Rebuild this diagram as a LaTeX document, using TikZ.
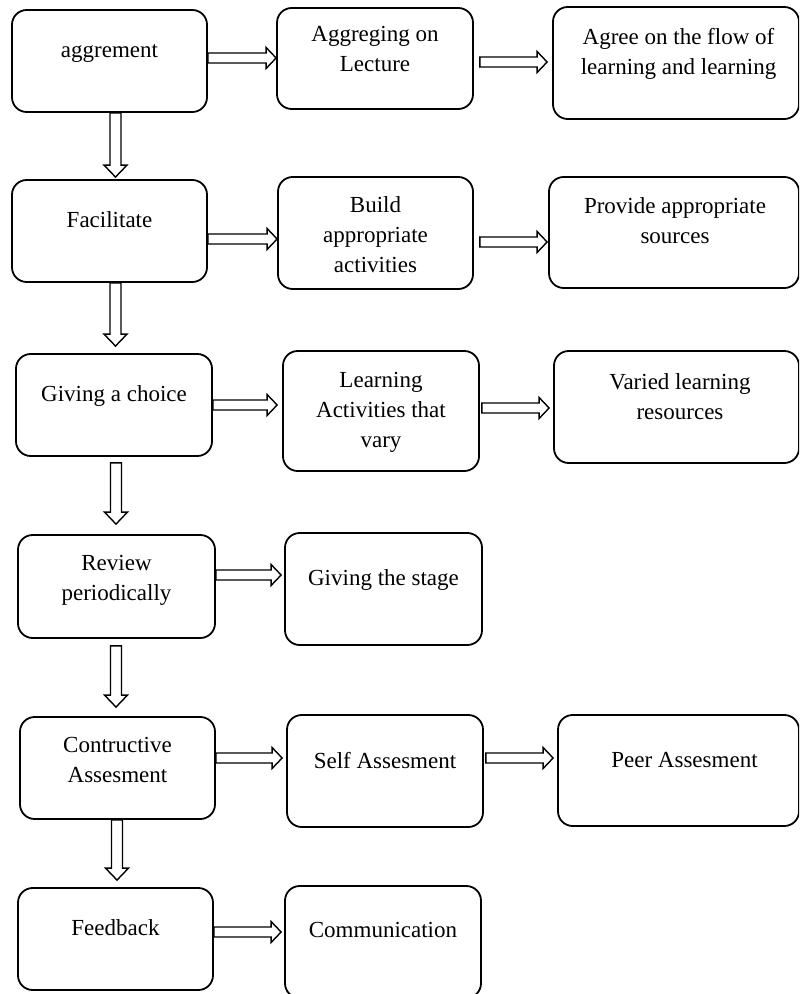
\documentclass[tikz,border=0pt]{standalone}
\usepackage{fontspec}
\setmainfont{Liberation Serif}
\usetikzlibrary{calc}
\tikzset{
  box/.style={draw, rounded corners=11pt, line width=1.35pt, inner sep=0pt},
  lbl/.style={anchor=base, align=center, inner sep=0pt, font=\fontsize{17.25}{22.5}\selectfont},
  arr/.style={draw, line width=1.05pt, fill=white, line join=miter},
}
\newcommand\bx[5]{\node[box, minimum width={(#4-#2)*0.75pt}, minimum height={(#5-#3)*0.75pt}] (#1) at ({(#2+#4)/2},{(#3+#5)/2}) {};}
\newcommand\hblockarrow[2]{\draw[arr] ($(#1)+(0,-5)$) -- ($(#2)+(-10,-5)$) -- ($(#2)+(-10,-10.5)$) -- (#2) -- ($(#2)+(-10,10.5)$) -- ($(#2)+(-10,5)$) -- ($(#1)+(0,5)$) -- cycle;}
\newcommand\vblockarrow[2]{\draw[arr] ($(#1)+(-5.5,0)$) -- ($(#2)+(-5.5,-12)$) -- ($(#2)+(-11.5,-12)$) -- (#2) -- ($(#2)+(11.5,-12)$) -- ($(#2)+(5.5,-12)$) -- ($(#1)+(5.5,0)$) -- cycle;}
\begin{document}
\begin{tikzpicture}[x=0.75pt, y=-0.75pt]
\useasboundingbox (0,0) rectangle (799,994);
\clip (0,0) rectangle (799,994);

% boxes
\bx{agg}{12}{10}{207}{112}
\bx{lec}{277}{8}{473}{109}
\bx{flow}{553}{7}{799}{119}
\bx{fac}{12}{180}{207}{282}
\bx{build}{278}{177}{473}{289}
\bx{prov}{549}{177}{799}{288}
\bx{choice}{16}{354}{212}{456}
\bx{lact}{283}{351}{479}{471}
\bx{varied}{554}{351}{799}{463}
\bx{review}{18}{535}{215}{638}
\bx{stage}{285}{533}{482}{645}
\bx{contr}{20}{717}{215}{819}
\bx{self}{287}{715}{483}{827}
\bx{peer}{558}{715}{799}{826}
\bx{feed}{18}{888}{213}{990}
\bx{comm}{285}{886}{481}{998}

% labels (anchor base = baseline of the last line)
\node[lbl] (aggt) at (agg.center |- 0,58) {aggrement};
\node[lbl] (lect) at (lec.center |- 0,72) {Aggreging on\\Lecture};
\node[lbl] (flowt) at (678.5,75) {Agree on the flow of\\learning and learning};
\node[lbl] (fact) at (fac.center |- 0,228) {Facilitate};
\node[lbl] (buildt) at (build.center |- 0,273) {Build\\appropriate\\activities};
\node[lbl] (provt) at (675,244) {Provide appropriate\\sources};
\node[lbl] (choicet) at (choice.center |- 0,401) {Giving a choice};
\node[lbl] (lactt) at (lact.center |- 0,447) {Learning\\Activities that\\vary};
\node[lbl] (variedt) at (680,419) {Varied learning\\resources};
\node[lbl] (reviewt) at (review.center |- 0,600) {Review\\periodically};
\node[lbl] (staget) at (stage.center |- 0,585) {Giving the stage};
\node[lbl] (contrt) at (contr.center |- 0,782) {Contructive\\Assesment};
\node[lbl] (selft) at (self.center |- 0,768) {Self Assesment};
\node[lbl] (peert) at (684.5,767) {Peer Assesment};
\node[lbl] (feedt) at (feed.center |- 0,935) {Feedback};
\node[lbl] (commt) at (comm.center |- 0,937) {Communication};

% horizontal connectors
\coordinate (h1s) at (agg.east |- 0,58);
\coordinate (h1e) at (lec.west |- 0,58);
\coordinate (h2s) at ($(lec.east |- 0,62)+(6,0)$);
\coordinate (h2e) at ($(flow.west |- 0,62)+(-5,0)$);
\coordinate (h3s) at (fac.east |- 0,239);
\coordinate (h3e) at (build.west |- 0,239);
\coordinate (h4s) at ($(build.east |- 0,242)+(6,0)$);
\coordinate (h4e) at ($(prov.west |- 0,242)+(-1,0)$);
\coordinate (h5s) at (choice.east |- 0,405);
\coordinate (h5e) at ($(lact.west |- 0,405)+(-5,0)$);
\coordinate (h6s) at ($(lact.east |- 0,408)+(2,0)$);
\coordinate (h6e) at ($(varied.west |- 0,408)+(-4,0)$);
\coordinate (h7s) at (review.east |- 0,575);
\coordinate (h7e) at ($(stage.west |- 0,575)+(-3,0)$);
\coordinate (h8s) at (contr.east |- 0,758);
\coordinate (h8e) at ($(self.west |- 0,758)+(-4,0)$);
\coordinate (h9s) at ($(self.east |- 0,758)+(2,0)$);
\coordinate (h9e) at ($(peer.west |- 0,758)+(-4,0)$);
\coordinate (h10s) at (feed.east |- 0,932);
\coordinate (h10e) at ($(comm.west |- 0,932)+(-3,0)$);
\hblockarrow{h1s}{h1e}
\hblockarrow{h2s}{h2e}
\hblockarrow{h3s}{h3e}
\hblockarrow{h4s}{h4e}
\hblockarrow{h5s}{h5e}
\hblockarrow{h6s}{h6e}
\hblockarrow{h7s}{h7e}
\hblockarrow{h8s}{h8e}
\hblockarrow{h9s}{h9e}
\hblockarrow{h10s}{h10e}

% vertical connectors
\coordinate (v1s) at (agg.south -| 115.5,0);
\coordinate (v1e) at ($(fac.north -| 115.5,0)+(0,-2)$);
\coordinate (v2s) at (fac.south -| 115.5,0);
\coordinate (v2e) at ($(choice.north -| 115.5,0)+(0,-7)$);
\coordinate (v3s) at ($(choice.south -| 116,0)+(0,6)$);
\coordinate (v3e) at ($(review.north -| 116,0)+(0,-10)$);
\coordinate (v4s) at ($(review.south -| 116,0)+(0,7)$);
\coordinate (v4e) at ($(contr.north -| 116,0)+(0,-9)$);
\coordinate (v5s) at (contr.south -| 117,0);
\coordinate (v5e) at ($(feed.north -| 117,0)+(0,-7)$);
\vblockarrow{v1s}{v1e}
\vblockarrow{v2s}{v2e}
\vblockarrow{v3s}{v3e}
\vblockarrow{v4s}{v4e}
\vblockarrow{v5s}{v5e}
\end{tikzpicture}
\end{document}
